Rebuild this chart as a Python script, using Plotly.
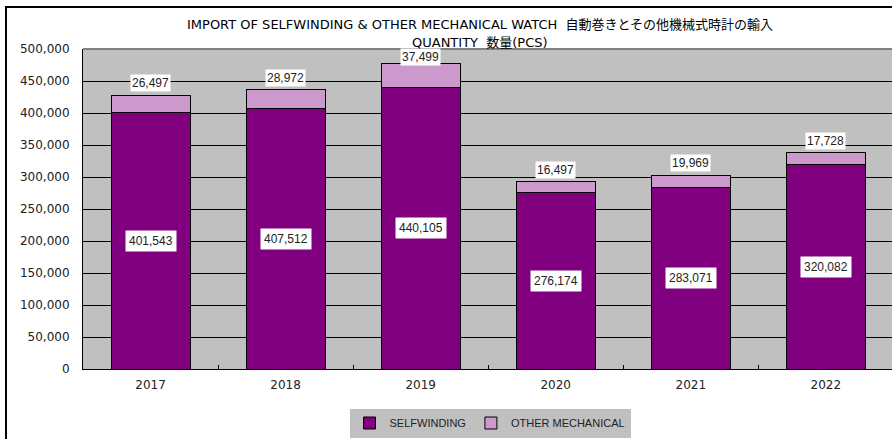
import plotly.graph_objects as go

years = ["2017", "2018", "2019", "2020", "2021", "2022"]
selfwinding = [401543, 407512, 440105, 276174, 283071, 320082]
other_mechanical = [26497, 28972, 37499, 16497, 19969, 17728]

FONT = "Liberation Sans, Arial, sans-serif"
TICK_FONT = "DejaVu Sans, sans-serif"
TITLE_FONT = "DejaVu Sans, Noto Sans CJK JP, sans-serif"

fig = go.Figure()
fig.add_trace(go.Bar(
    x=years, y=selfwinding, name="SELFWINDING",
    marker=dict(color="#800080", line=dict(color="#000000", width=1)),
))
fig.add_trace(go.Bar(
    x=years, y=other_mechanical, name="OTHER MECHANICAL",
    marker=dict(color="#CC99CC", line=dict(color="#000000", width=1)),
))

annotations = []
for i, (s, o) in enumerate(zip(selfwinding, other_mechanical)):
    annotations.append(dict(
        x=i, y=s / 2, text=f"{s:,}", showarrow=False,
        bgcolor="#FFFFFF", borderpad=3,
        font=dict(size=12, color="#222222", family=FONT),
    ))
    # labels near the top of the plot are pushed down so they stay inside
    annotations.append(dict(
        x=i, y=s + o, text=f"{o:,}", showarrow=False,
        yanchor="bottom", yshift=3 if s + o < 460000 else -3,
        bgcolor="#FFFFFF", borderpad=1,
        font=dict(size=12, color="#222222", family=FONT),
    ))

annotations.append(dict(
    xref="paper", yref="paper", x=(480 - 83) / 809, y=(369 - 15) / 320,
    text="IMPORT OF SELFWINDING & OTHER MECHANICAL WATCH  自動巻きとその他機械式時計の輸入",
    showarrow=False, font=dict(size=13, color="#000000", family=TITLE_FONT),
))
annotations.append(dict(
    xref="paper", yref="paper", x=(480 - 83) / 809, y=(369 - 33) / 320,
    text="QUANTITY  数量(PCS)",
    showarrow=False, font=dict(size=13, color="#000000", family=TITLE_FONT),
))

fig.update_layout(
    barmode="stack",
    bargap=0.415,
    width=892, height=439,
    margin=dict(l=83, r=0, t=49, b=70),
    plot_bgcolor="#C0C0C0",
    paper_bgcolor="#FFFFFF",
    font=dict(family=FONT, size=12, color="#222222"),
    annotations=annotations,
    xaxis=dict(
        type="category",
        range=[-0.5, 5.49], showline=True, linecolor="#000000", linewidth=1,
        ticks="inside", ticklen=4, tickcolor="#000000", tickson="boundaries",
        showgrid=False, tickfont=dict(size=12, family=TICK_FONT),
        ticklabelstandoff=5,
    ),
    yaxis=dict(
        range=[0, 500000], dtick=50000, tickformat=",",
        showline=True, linecolor="#000000", linewidth=1,
        gridcolor="#000000", gridwidth=1, zeroline=False,
        tickfont=dict(size=12, family=TICK_FONT), ticklabelstandoff=10,
    ),
    legend=dict(
        orientation="h", xref="container", yref="container",
        x=490 / 892, xanchor="center", y=(439 - 423) / 439, yanchor="middle",
        bgcolor="#C0C0C0", font=dict(size=11, family=FONT),
        itemwidth=30, traceorder="normal",
    ),
    shapes=[
        dict(type="line", xref="paper", yref="paper", x0=0, x1=1, y0=1, y1=1,
             line=dict(color="#808080", width=2)),
        dict(type="rect", xref="paper", yref="paper",
             x0=(6 - 83) / 809, x1=1.05, y0=-0.4, y1=(369 - 7) / 320,
             line=dict(color="#000000", width=2), layer="below"),
    ],
)

fig.write_html("out.html", config={"displayModeBar": False},
               post_script="document.body.style.margin='0';")
